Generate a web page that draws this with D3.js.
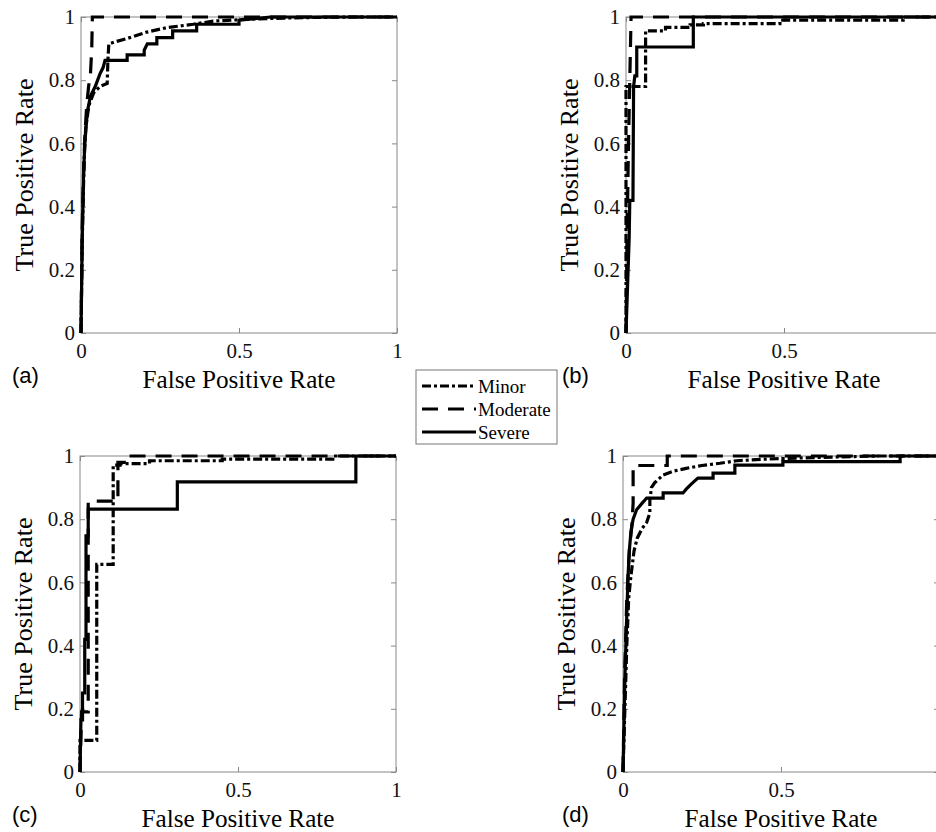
<!DOCTYPE html>
<html>
<head>
<meta charset="utf-8">
<script src="https://cdn.jsdelivr.net/npm/d3@7"></script>
<style>
  body { margin: 0; background: #fff; }
  svg { display: block; }
  .tick text { font-family: "Liberation Serif", "Times New Roman", Times, "DejaVu Serif", serif; font-size: 21px; fill: #111; }
  .tick line { stroke: #888; }
</style>
</head>
<body>
<div id="chart"></div>
<script>
// ROC curves, points are [false positive rate, true positive rate]
const seriesNames = ["Minor", "Moderate", "Severe"];
const xTickValues = [0, 0.5, 1];
const xTickLabels = ["0", "0.5", "1"];
const yTickValues = [0, 0.2, 0.4, 0.6, 0.8, 1];
const yTickLabels = ["0", "0.2", "0.4", "0.6", "0.8", "1"];
const panelTags = ["(a)", "(b)", "(c)", "(d)"];

// (a)
const minorA = [[0,0],[0.004,0.3],[0.01,0.55],[0.015,0.65],[0.025,0.72],[0.04,0.76],[0.06,0.78],[0.083,0.79],[0.085,0.86],[0.088,0.915],[0.11,0.922],[0.146,0.932],[0.18,0.943],[0.208,0.952],[0.27,0.966],[0.355,0.977],[0.418,0.987],[0.55,0.994],[0.7,0.998],[0.85,1],[1,1]];
const moderateA = [[0,0],[0.004,0.35],[0.008,0.5],[0.012,0.62],[0.018,0.72],[0.024,0.78],[0.03,0.82],[0.034,0.9],[0.036,1],[1,1]];
const severeA = [[0,0],[0.004,0.3],[0.008,0.5],[0.012,0.6],[0.02,0.7],[0.03,0.75],[0.045,0.78],[0.06,0.82],[0.07,0.84],[0.076,0.863],[0.146,0.863],[0.146,0.88],[0.2,0.88],[0.2,0.895],[0.21,0.915],[0.24,0.915],[0.24,0.935],[0.29,0.935],[0.29,0.956],[0.366,0.956],[0.366,0.977],[0.5,0.977],[0.5,0.99],[0.55,0.995],[0.6,1],[1,1]];

// (b)
const minorB = [[0,0],[0,0.78],[0.062,0.78],[0.062,0.956],[0.125,0.956],[0.125,0.967],[0.203,0.967],[0.203,0.975],[0.245,0.975],[0.245,0.979],[0.487,0.979],[0.487,0.99],[0.877,0.99],[0.877,1],[1,1]];
const moderateB = [[0,0],[0.004,0.35],[0.008,0.6],[0.012,0.8],[0.015,0.95],[0.016,1],[1,1]];
const severeB = [[0,0],[0.01,0.3],[0.012,0.42],[0.022,0.42],[0.024,0.78],[0.028,0.814],[0.034,0.814],[0.034,0.905],[0.213,0.905],[0.213,1],[1,1]];

// (c)
const minorC = [[0,0],[0,0.1],[0.053,0.1],[0.053,0.657],[0.105,0.657],[0.105,0.971],[0.127,0.971],[0.127,0.976],[0.22,0.976],[0.22,0.985],[0.45,0.985],[0.45,0.99],[0.8,0.99],[0.8,1],[1,1]];
const moderateC = [[0,0],[0.005,0.19],[0.026,0.19],[0.026,0.857],[0.12,0.857],[0.12,0.98],[0.148,0.98],[0.148,1],[1,1]];
const severeC = [[0,0],[0.003,0.165],[0.008,0.165],[0.008,0.25],[0.015,0.25],[0.015,0.42],[0.019,0.42],[0.019,0.747],[0.026,0.747],[0.026,0.832],[0.308,0.832],[0.308,0.918],[0.873,0.918],[0.873,1],[1,1]];

// (d)
const minorD = [[0,0],[0.006,0.2],[0.012,0.4],[0.018,0.55],[0.025,0.62],[0.035,0.7],[0.045,0.74],[0.06,0.77],[0.075,0.79],[0.085,0.82],[0.085,0.86],[0.09,0.9],[0.1,0.915],[0.127,0.94],[0.16,0.952],[0.2,0.961],[0.25,0.97],[0.307,0.977],[0.36,0.985],[0.45,0.99],[0.6,0.995],[0.8,1],[1,1]];
const moderateD = [[0,0],[0.005,0.3],[0.012,0.55],[0.02,0.7],[0.028,0.78],[0.032,0.85],[0.032,0.97],[0.14,0.97],[0.14,1],[1,1]];
const severeD = [[0,0],[0.006,0.3],[0.012,0.5],[0.016,0.62],[0.02,0.7],[0.025,0.76],[0.032,0.8],[0.043,0.83],[0.06,0.85],[0.075,0.867],[0.127,0.867],[0.127,0.883],[0.19,0.883],[0.2,0.895],[0.215,0.91],[0.237,0.93],[0.285,0.93],[0.285,0.946],[0.354,0.946],[0.354,0.971],[0.506,0.971],[0.506,0.982],[0.877,0.982],[0.877,1],[1,1]];

const panelData = [
  [minorA, moderateA, severeA],
  [minorB, moderateB, severeB],
  [minorC, moderateC, severeC],
  [minorD, moderateD, severeD],
];

// layout of the four axes boxes (pixels)
const layout = [
  { left: 81, top: 17, tagX: 12 },
  { left: 626, top: 17, tagX: 562 },
  { left: 80, top: 456, tagX: 12 },
  { left: 623, top: 456, tagX: 562 },
];
const size = 316;
const pageWidth = 936;
const dashes = ["9,3,3,3", "16,10", null];
const serif = '"Liberation Serif", "Times New Roman", Times, "DejaVu Serif", serif';

const svg = d3.select("#chart").append("svg")
  .attr("width", pageWidth)
  .attr("height", 832);

// shrink or grow a text so it spans the given width
function fitWidth(sel, target) {
  const w = sel.node().getComputedTextLength();
  const fs = parseFloat(sel.style("font-size"));
  if (w > 0) sel.style("font-size", (fs * target / w).toFixed(2) + "px");
}

const x = d3.scaleLinear().domain([0, 1]).range([0, size]);
const y = d3.scaleLinear().domain([0, 1]).range([size, 0]);
const line = d3.line().x(d => x(d[0])).y(d => y(d[1]));

panelData.forEach((series, i) => {
  const p = layout[i];
  const g = svg.append("g").attr("transform", `translate(${p.left},${p.top})`);

  // box
  g.append("rect")
    .attr("width", size).attr("height", size)
    .attr("fill", "none").attr("stroke", "#888").attr("stroke-width", 1);

  // ticks pointing inward on all four sides
  g.append("g").attr("transform", `translate(0,${size})`)
    .call(d3.axisBottom(x).tickValues(xTickValues).tickFormat((d, k) => xTickLabels[k]).tickSizeInner(-5).tickSizeOuter(0).tickPadding(10))
    .call(a => a.select(".domain").remove())
    // labels that fall past the page edge are not in the picture
    .call(a => a.selectAll(".tick text").filter(d => p.left + x(d) > pageWidth - 6).remove());
  g.append("g")
    .call(d3.axisTop(x).tickValues(xTickValues).tickFormat("").tickSizeInner(-5).tickSizeOuter(0))
    .call(a => a.select(".domain").remove());
  g.append("g")
    .call(d3.axisLeft(y).tickValues(yTickValues).tickFormat((d, k) => yTickLabels[k]).tickSizeInner(-5).tickSizeOuter(0).tickPadding(6))
    .call(a => a.select(".domain").remove());
  g.append("g").attr("transform", `translate(${size},0)`)
    .call(d3.axisRight(y).tickValues(yTickValues).tickFormat("").tickSizeInner(-5).tickSizeOuter(0))
    .call(a => a.select(".domain").remove());

  // curves
  series.forEach((pts, s) => {
    g.append("path")
      .datum(pts)
      .attr("fill", "none")
      .attr("stroke", "#000")
      .attr("stroke-width", 3.2)
      .attr("stroke-linejoin", "miter")
      .attr("stroke-dasharray", dashes[s])
      .attr("d", line);
  });

  // axis titles
  g.append("text")
    .attr("x", size / 2).attr("y", size + 55)
    .attr("text-anchor", "middle")
    .style("font-family", serif).style("font-size", "25px")
    .text("False Positive Rate")
    .call(fitWidth, 193);
  g.append("text")
    .attr("transform", `translate(-48,${size / 2}) rotate(-90)`)
    .attr("text-anchor", "middle")
    .style("font-family", serif).style("font-size", "25px")
    .text("True Positive Rate")
    .call(fitWidth, 193);

  // panel tag
  svg.append("text")
    .attr("x", p.tagX).attr("y", p.top + size + 50)
    .style("font-family", '"Liberation Sans", Arial, sans-serif').style("font-size", "22px")
    .text(panelTags[i]);
});

// legend
const legend = svg.append("g").attr("transform", "translate(416,370)");
legend.append("rect")
  .attr("width", 141).attr("height", 74)
  .attr("fill", "#fff").attr("stroke", "#777").attr("stroke-width", 1);
seriesNames.forEach((name, s) => {
  const ly = 16 + s * 23;
  legend.append("line")
    .attr("x1", 6).attr("x2", 60).attr("y1", ly).attr("y2", ly)
    .attr("stroke", "#000").attr("stroke-width", 3)
    .attr("stroke-dasharray", dashes[s]);
  legend.append("text")
    .attr("x", 62).attr("y", ly).attr("dy", "0.35em")
    .style("font-family", serif).style("font-size", "19px")
    .text(name);
});
</script>
</body>
</html>
